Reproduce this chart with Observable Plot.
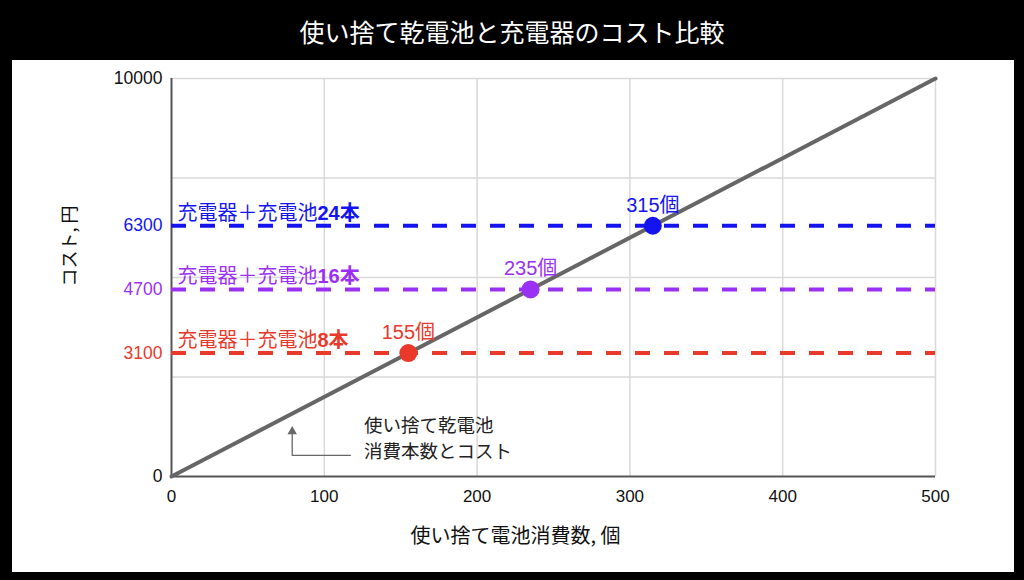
<!DOCTYPE html>
<html><head><meta charset="utf-8">
<script src="https://cdn.jsdelivr.net/npm/d3@7"></script>
<script src="https://cdn.jsdelivr.net/npm/@observablehq/plot@0.6"></script>
<style>
body{margin:0;background:#000;width:1024px;height:580px;overflow:hidden;font-family:"Noto Sans CJK JP",sans-serif;position:relative;}
#title{position:absolute;left:0;top:0;width:1024px;height:62px;color:#fff;font-size:25px;display:flex;align-items:center;justify-content:center;}
#panel{position:absolute;left:12px;top:60px;width:1002px;height:512px;background:#fff;}
</style></head><body>
<div id="title"></div>
<div id="panel"></div>
<script>
const titleText = "使い捨て乾電池と充電器のコスト比較";
const xTicks = [0, 100, 200, 300, 400, 500];
const yGridValues = [2500, 5000, 7500, 10000];
const disposableCount = [0, 500];
const disposableCost = [0, 10000];
const planLabels = ["充電器＋充電池8本", "充電器＋充電池16本", "充電器＋充電池24本"];
const planCost = [3100, 4700, 6300];
const breakEvenCount = [155, 235, 315];
const breakEvenLabels = ["155個", "235個", "315個"];
const planColors = ["#e8392b", "#9b30f5", "#1414f0"];
const annotationLines = ["使い捨て乾電池", "消費本数とコスト"];
const annotationPos = {x: 126, y: [1260, 620]};
const arrowPath = [{x: 117, y: 530}, {x: 79, y: 530}, {x: 79, y: 1110}];
const arrowTip = [{x: 79, y: 1130}];
const xLabel = "使い捨て電池消費数, 個";
const yLabel = "コスト, 円";

document.getElementById("title").textContent = titleText;

const font = "'Liberation Sans','Noto Sans CJK JP',sans-serif";
const cjk = "'Noto Sans CJK JP',sans-serif";
const fmt = d => String(d);
const disposable = disposableCount.map((x, i) => ({x, y: disposableCost[i]}));

const marks = [
  Plot.gridX(xTicks.slice(1), {stroke: "#d9d9d9", strokeOpacity: 1, strokeWidth: 1.5}),
  Plot.gridY(yGridValues, {stroke: "#d9d9d9", strokeOpacity: 1, strokeWidth: 1.5}),
  Plot.ruleX([0], {stroke: "#555", strokeWidth: 2}),
  Plot.ruleY([0], {stroke: "#555", strokeWidth: 2}),
  Plot.axisX(xTicks, {tickSize: 0, tickPadding: 13, fontSize: 17, tickFormat: fmt, label: null, color: "#111", fill: "#111"}),
  Plot.axisY([0, 10000], {tickSize: 0, tickPadding: 9, fontSize: 17.5, tickFormat: fmt, label: null, color: "#111", fill: "#111"})
];
planCost.forEach((c, i) => {
  marks.push(Plot.ruleY([c], {stroke: planColors[i], strokeWidth: 4, strokeDasharray: "15,14"}));
  marks.push(Plot.axisY([c], {tickSize: 0, tickPadding: 9, fontSize: 17.5, tickFormat: fmt, label: null, color: planColors[i], fill: planColors[i]}));
  marks.push(Plot.text([planLabels[i]], {x: 0, y: c, text: d => d, dx: 6, dy: -6, textAnchor: "start", lineAnchor: "bottom", fill: planColors[i], fontSize: 20, fontFamily: font}));
});
marks.push(Plot.line(disposable, {x: "x", y: "y", stroke: "#666", strokeWidth: 4}));
planCost.forEach((c, i) => {
  marks.push(Plot.dot([breakEvenCount[i]], {x: d => d, y: c, r: 9, fill: planColors[i]}));
  marks.push(Plot.text([breakEvenLabels[i]], {x: breakEvenCount[i], y: c, text: d => d, dy: -14, lineAnchor: "bottom", fill: planColors[i], fontSize: 20, fontFamily: font}));
});
marks.push(
  Plot.line(arrowPath, {x: "x", y: "y", stroke: "#666", strokeWidth: 1.3}),
  Plot.dot(arrowTip, {x: "x", y: "y", symbol: "triangle", r: 3.5, fill: "#666", stroke: null}),
  Plot.text([annotationLines[0]], {x: annotationPos.x, y: annotationPos.y[0], text: d => d, textAnchor: "start", lineAnchor: "middle", fontSize: 18.5, fill: "#222", fontFamily: cjk}),
  Plot.text([annotationLines[1]], {x: annotationPos.x, y: annotationPos.y[1], text: d => d, textAnchor: "start", lineAnchor: "middle", fontSize: 18.5, fill: "#222", fontFamily: cjk}),
  Plot.text([xLabel], {frameAnchor: "bottom", text: d => d, dx: -38, dy: 60, lineAnchor: "middle", fontSize: 20, fill: "#111", fontFamily: cjk}),
  Plot.text([yLabel], {frameAnchor: "left", text: d => d, dx: -101, dy: 9, rotate: -90, lineAnchor: "middle", fontSize: 18, fill: "#111", fontFamily: cjk})
);

const chart = Plot.plot({
  width: 1002,
  height: 512,
  marginLeft: 159,
  marginRight: 79,
  marginTop: 18,
  marginBottom: 96,
  x: {domain: [0, 500]},
  y: {domain: [0, 10000]},
  style: {background: "white", fontFamily: font, overflow: "visible"},
  marks
});

d3.select(chart).selectAll("text").each(function() {
  const s = this.textContent;
  const m = s.match(/^(充電器＋充電池)(\d+本)$/);
  if (m) {
    this.textContent = "";
    d3.select(this).append("tspan").text(m[1]);
    d3.select(this).append("tspan").attr("font-weight", "bold").text(m[2]);
  }
});

document.getElementById("panel").appendChild(chart);
</script>
</body></html>
